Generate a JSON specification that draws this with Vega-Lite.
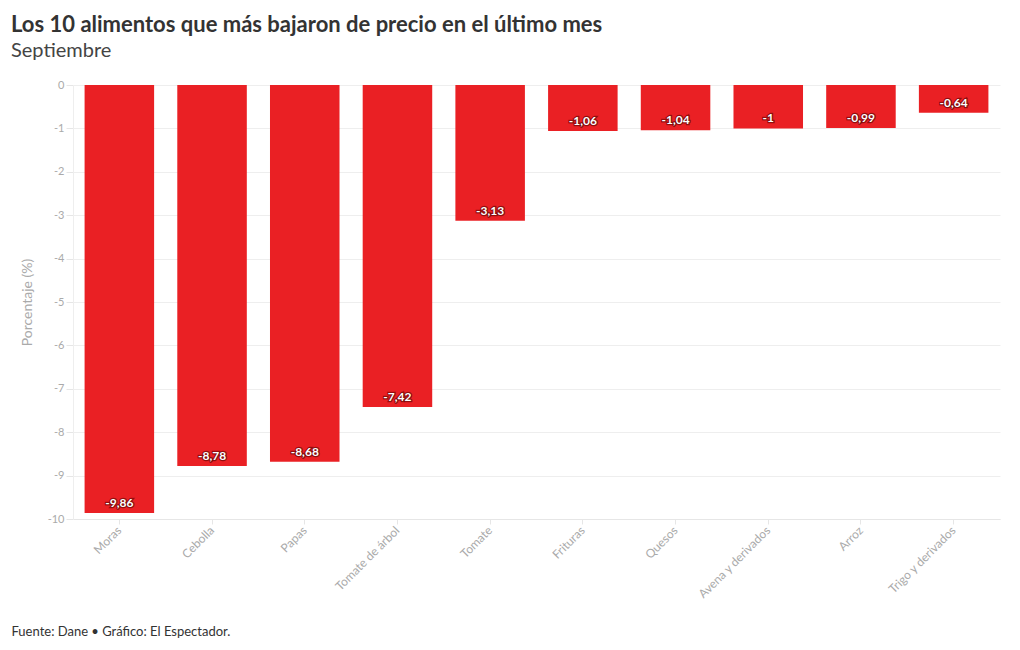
{
  "$schema": "https://vega.github.io/schema/vega-lite/v6.json",
  "width": 927,
  "height": 434,
  "autosize": {"type": "none"},
  "padding": {"left": 73, "top": 85, "right": 20, "bottom": 131},
  "background": "white",
  "title": {
    "text": "Los 10 alimentos que más bajaron de precio en el último mes",
    "subtitle": "Septiembre",
    "anchor": "start",
    "frame": "group",
    "dx": -62,
    "offset": 17,
    "font": "Lato",
    "fontSize": 22,
    "fontWeight": "bold",
    "color": "#333333",
    "subtitleFont": "Lato",
    "subtitleFontSize": 20,
    "subtitleColor": "#444444",
    "subtitlePadding": 4
  },
  "config": {
    "locale": {"number": {"decimal": ",", "thousands": ".", "grouping": [3], "currency": ["$", ""], "minus": "-"}},
    "view": {"stroke": null},
    "font": "Lato"
  },
  "data": {
    "values": [
      {"alimento": "Moras", "valor": -9.86},
      {"alimento": "Cebolla", "valor": -8.78},
      {"alimento": "Papas", "valor": -8.68},
      {"alimento": "Tomate de árbol", "valor": -7.42},
      {"alimento": "Tomate", "valor": -3.13},
      {"alimento": "Frituras", "valor": -1.06},
      {"alimento": "Quesos", "valor": -1.04},
      {"alimento": "Avena y derivados", "valor": -1},
      {"alimento": "Arroz", "valor": -0.99},
      {"alimento": "Trigo y derivados", "valor": -0.64}
    ]
  },
  "encoding": {
    "x": {
      "field": "alimento",
      "type": "nominal",
      "sort": null,
      "scale": {"paddingInner": 0.25, "paddingOuter": 0.125},
      "axis": {
        "labelAngle": -45,
        "labelAlign": "right",
        "labelBaseline": "middle",
        "labelColor": "#aaaaaa",
        "labelFontSize": 12,
        "labelPadding": 4,
        "tickColor": "#e6e6e6",
        "tickSize": 5,
        "domainColor": "#e6e6e6",
        "title": "Fuente: Dane • Gráfico: El Espectador.",
        "titleAnchor": "start",
        "titleAlign": "left",
        "titleX": -62,
        "titleY": 112,
        "titleBaseline": "middle",
        "titleFontSize": 13,
        "titleFontWeight": "normal",
        "titleColor": "#333333"
      }
    }
  },
  "layer": [
    {
      "mark": {"type": "bar", "color": "#ea2024"},
      "encoding": {
        "y": {
          "field": "valor",
          "type": "quantitative",
          "scale": {"domain": [-10, 0], "nice": false},
          "axis": {
            "values": [0, -1, -2, -3, -4, -5, -6, -7, -8, -9, -10],
            "labelColor": "#aaaaaa",
            "labelFontSize": 11,
            "tickColor": "#e6e6e6",
            "tickSize": 7,
            "domainColor": "#eeeeee",
            "gridColor": "#eeeeee",
            "title": "Porcentaje (%)",
            "titleColor": "#aaaaaa",
            "titleFontSize": 14,
            "titleFontWeight": "normal",
            "titlePadding": 13
          }
        }
      }
    },
    {
      "mark": {"type": "text", "baseline": "bottom", "dy": -3, "fontWeight": "bold", "fontSize": 12, "stroke": "#5a0000", "strokeWidth": 2.5, "strokeOpacity": 0.6, "fill": "#5a0000"},
      "encoding": {
        "y": {"field": "valor", "type": "quantitative"},
        "text": {"field": "valor", "type": "quantitative", "format": "~g"}
      }
    },
    {
      "mark": {"type": "text", "baseline": "bottom", "dy": -3, "fontWeight": "bold", "fontSize": 12, "color": "white"},
      "encoding": {
        "y": {"field": "valor", "type": "quantitative"},
        "text": {"field": "valor", "type": "quantitative", "format": "~g"}
      }
    }
  ]
}
